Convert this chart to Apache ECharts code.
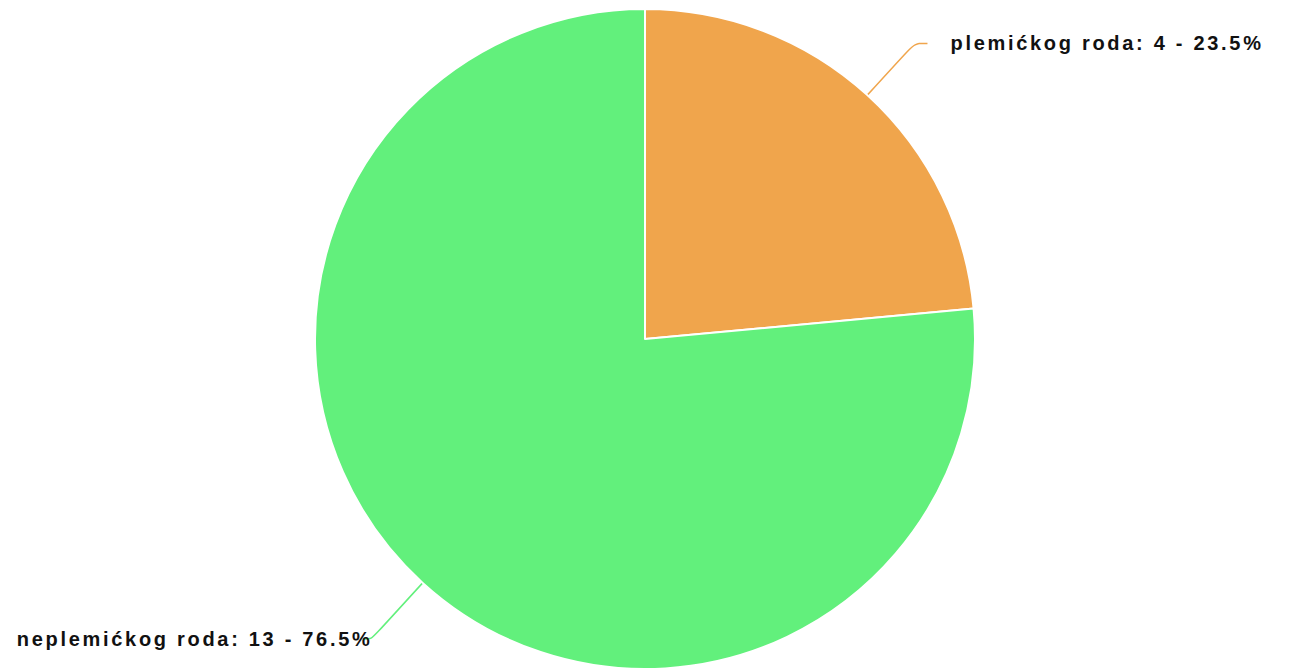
<!DOCTYPE html>
<html>
<head>
<meta charset="utf-8">
<script src="https://cdn.jsdelivr.net/npm/echarts@6/dist/echarts.min.js"></script>
<style>
html,body{margin:0;padding:0;background:#fff;}
#c{width:1294px;height:670px;}
#c svg text{letter-spacing:2.7px;}
</style>
</head>
<body>
<div id="c"></div>
<script>
const categories = ['plemićkog roda', 'neplemićkog roda'];
const values = [4, 13];
const colors = ['#F0A54C', '#62F07C'];

const chart = echarts.init(document.getElementById('c'), null, {renderer: 'svg'});
const lineCfg = [
  {length: 70, length2: 13, dist: 23},
  {length: 76, length2: 8, dist: -9}
];
const data = categories.map((name, i) => ({
  name: name,
  value: values[i],
  itemStyle: {color: colors[i]},
  label: {distanceToLabelLine: lineCfg[i].dist},
  labelLine: {length: lineCfg[i].length, length2: lineCfg[i].length2}
}));
chart.setOption({
  animation: false,
  series: [{
    type: 'pie',
    center: [645, 339],
    radius: 330,
    startAngle: 90,
    clockwise: true,
    avoidLabelOverlap: false,
    percentPrecision: 1,
    itemStyle: {borderColor: '#fff', borderWidth: 2},
    label: {
      show: true,
      position: 'outside',
      color: '#111',
      fontFamily: '"Liberation Sans", Arial, sans-serif',
      fontWeight: 'bold',
      fontSize: 20,
      formatter: p => p.name + ': ' + p.value + ' - ' + p.percent.toFixed(1) + '%'
    },
    labelLine: {show: true, smooth: true, lineStyle: {width: 1.5}},
    data: data
  }]
});
</script>
</body>
</html>
